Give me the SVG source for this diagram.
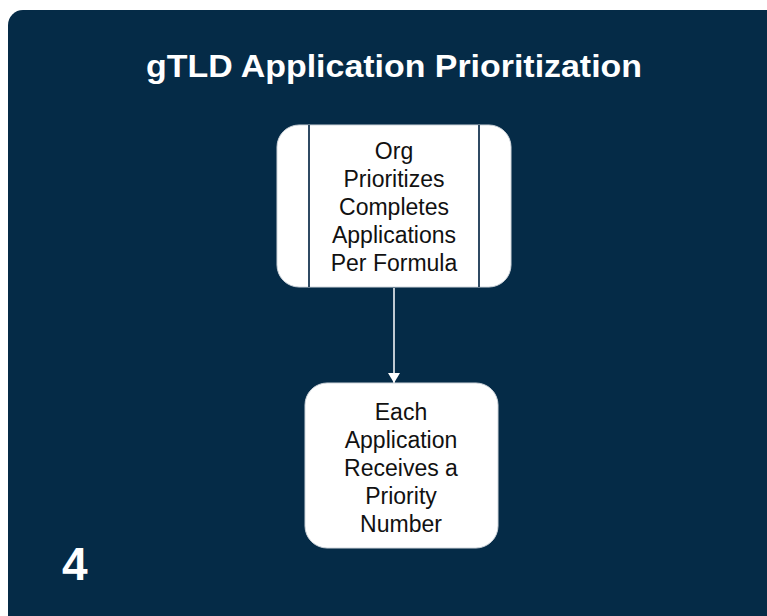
<svg xmlns="http://www.w3.org/2000/svg" width="767" height="616" viewBox="0 0 767 616">
  <defs>
    <style>
      .bg { fill: #052b47; }
      .title { font-family: "Liberation Sans", Arial, sans-serif; font-weight: bold; font-size: 32px; fill: #ffffff; text-anchor: middle; }
      .num { font-family: "Liberation Sans", Arial, sans-serif; font-weight: bold; font-size: 46px; fill: #ffffff; }
      .box { fill: #ffffff; stroke: #d0d6dc; stroke-width: 1; }
      .div { stroke: #2f4a63; stroke-width: 2; }
      .lbl { font-family: "Liberation Sans", Arial, sans-serif; font-size: 23px; fill: #111111; text-anchor: middle; }
      .conn { stroke: #ffffff; stroke-width: 1.5; fill: none; }
    </style>
    <marker id="arrow" markerWidth="12" markerHeight="14" refX="10" refY="6" orient="auto" markerUnits="userSpaceOnUse">
      <path d="M0,0 L10,6 L0,12 Z" fill="#ffffff"/>
    </marker>
  </defs>
  <rect x="0" y="0" width="767" height="616" fill="#ffffff"/>
  <rect class="bg" x="8" y="10" width="780" height="620" rx="15" ry="15"/>
  <text class="title" x="394" y="77" textLength="496" lengthAdjust="spacingAndGlyphs">gTLD Application Prioritization</text>
  <text class="num" x="62" y="580">4</text>

  <g id="connectors">
    <line class="conn" x1="394" y1="288" x2="394" y2="383" marker-end="url(#arrow)"/>
  </g>

  <g id="node-org-prioritizes">
    <rect class="box" x="277" y="125" width="234" height="162" rx="22" ry="22"/>
    <line class="div" x1="309" y1="125" x2="309" y2="287"/>
    <line class="div" x1="479" y1="125" x2="479" y2="287"/>
    <text class="lbl" x="394" y="159">Org</text>
    <text class="lbl" x="394" y="187">Prioritizes</text>
    <text class="lbl" x="394" y="215">Completes</text>
    <text class="lbl" x="394" y="243">Applications</text>
    <text class="lbl" x="394" y="271">Per Formula</text>
  </g>

  <g id="node-priority-number">
    <rect class="box" x="305" y="383" width="193" height="165" rx="22" ry="22"/>
    <text class="lbl" x="401" y="420">Each</text>
    <text class="lbl" x="401" y="448">Application</text>
    <text class="lbl" x="401" y="476">Receives a</text>
    <text class="lbl" x="401" y="504">Priority</text>
    <text class="lbl" x="401" y="532">Number</text>
  </g>
</svg>
